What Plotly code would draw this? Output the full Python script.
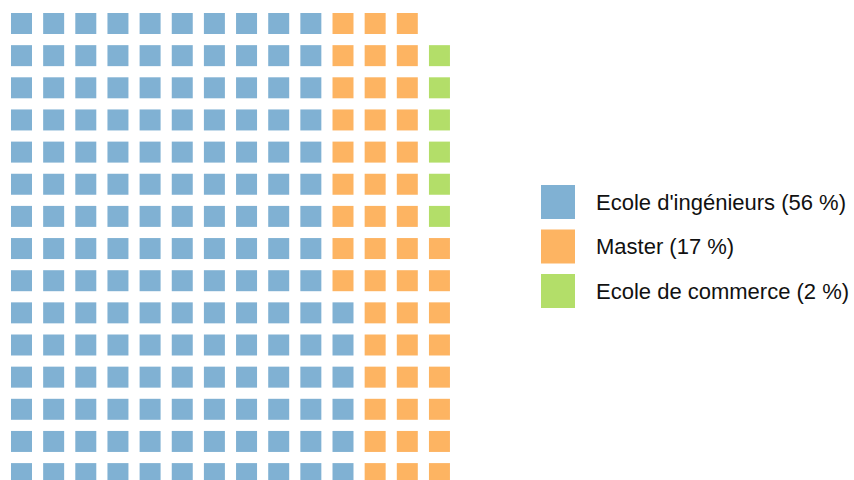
import plotly.graph_objects as go

categories = ["Ecole d'ingénieurs", "Master", "Ecole de commerce"]
percent_labels = ["56 %", "17 %", "2 %"]
square_counts = [156, 47, 6]
colors = ["#80B1D3", "#FDB462", "#B3DE69"]
n_rows = 15
n_cols = 14

W, H = 854, 480
pitch = 32.15

fig = go.Figure()

idx = 0
for cat, cnt, col in zip(categories, square_counts, colors):
    xs, ys = [], []
    for _ in range(cnt):
        c = idx // n_rows
        r_from_bottom = idx % n_rows
        xs.append(c)
        ys.append(n_rows - 1 - r_from_bottom)
        idx += 1
    fig.add_trace(go.Scatter(
        x=xs, y=ys, mode="markers", name=cat, showlegend=False,
        marker=dict(symbol="square", size=21, color=col, line=dict(width=0)),
        hoverinfo="name",
    ))

x0 = -21.5 / pitch
y0 = -23.5 / pitch
fig.update_xaxes(range=[x0, x0 + W / pitch], visible=False, showgrid=False, zeroline=False)
fig.update_yaxes(range=[y0 + H / pitch, y0], visible=False, showgrid=False, zeroline=False)

# custom legend
shapes = []
annotations = []
leg_top = 185
leg_left = 541
leg_pitch = 44.5
for i, (cat, pl, col) in enumerate(zip(categories, percent_labels, colors)):
    top = leg_top + i * leg_pitch
    shapes.append(dict(type="rect", xref="paper", yref="paper",
                       x0=leg_left / W, x1=(leg_left + 34) / W,
                       y0=1 - (top + 34) / H, y1=1 - top / H,
                       fillcolor=col, line=dict(width=0)))
    annotations.append(dict(xref="paper", yref="paper", x=594 / W, y=1 - (top + 17) / H,
                            xanchor="left", yanchor="middle", showarrow=False,
                            text=f"{cat} ({pl})",
                            font=dict(family="Liberation Sans, Arial", size=22, color="#111111")))

fig.update_layout(
    width=W, height=H,
    margin=dict(l=0, r=0, t=0, b=0),
    paper_bgcolor="white", plot_bgcolor="white",
    shapes=shapes, annotations=annotations,
    showlegend=False,
)

fig.write_html("out.html", config={"displayModeBar": False},
               post_script="document.body.style.margin='0';document.body.style.overflow='hidden';")
